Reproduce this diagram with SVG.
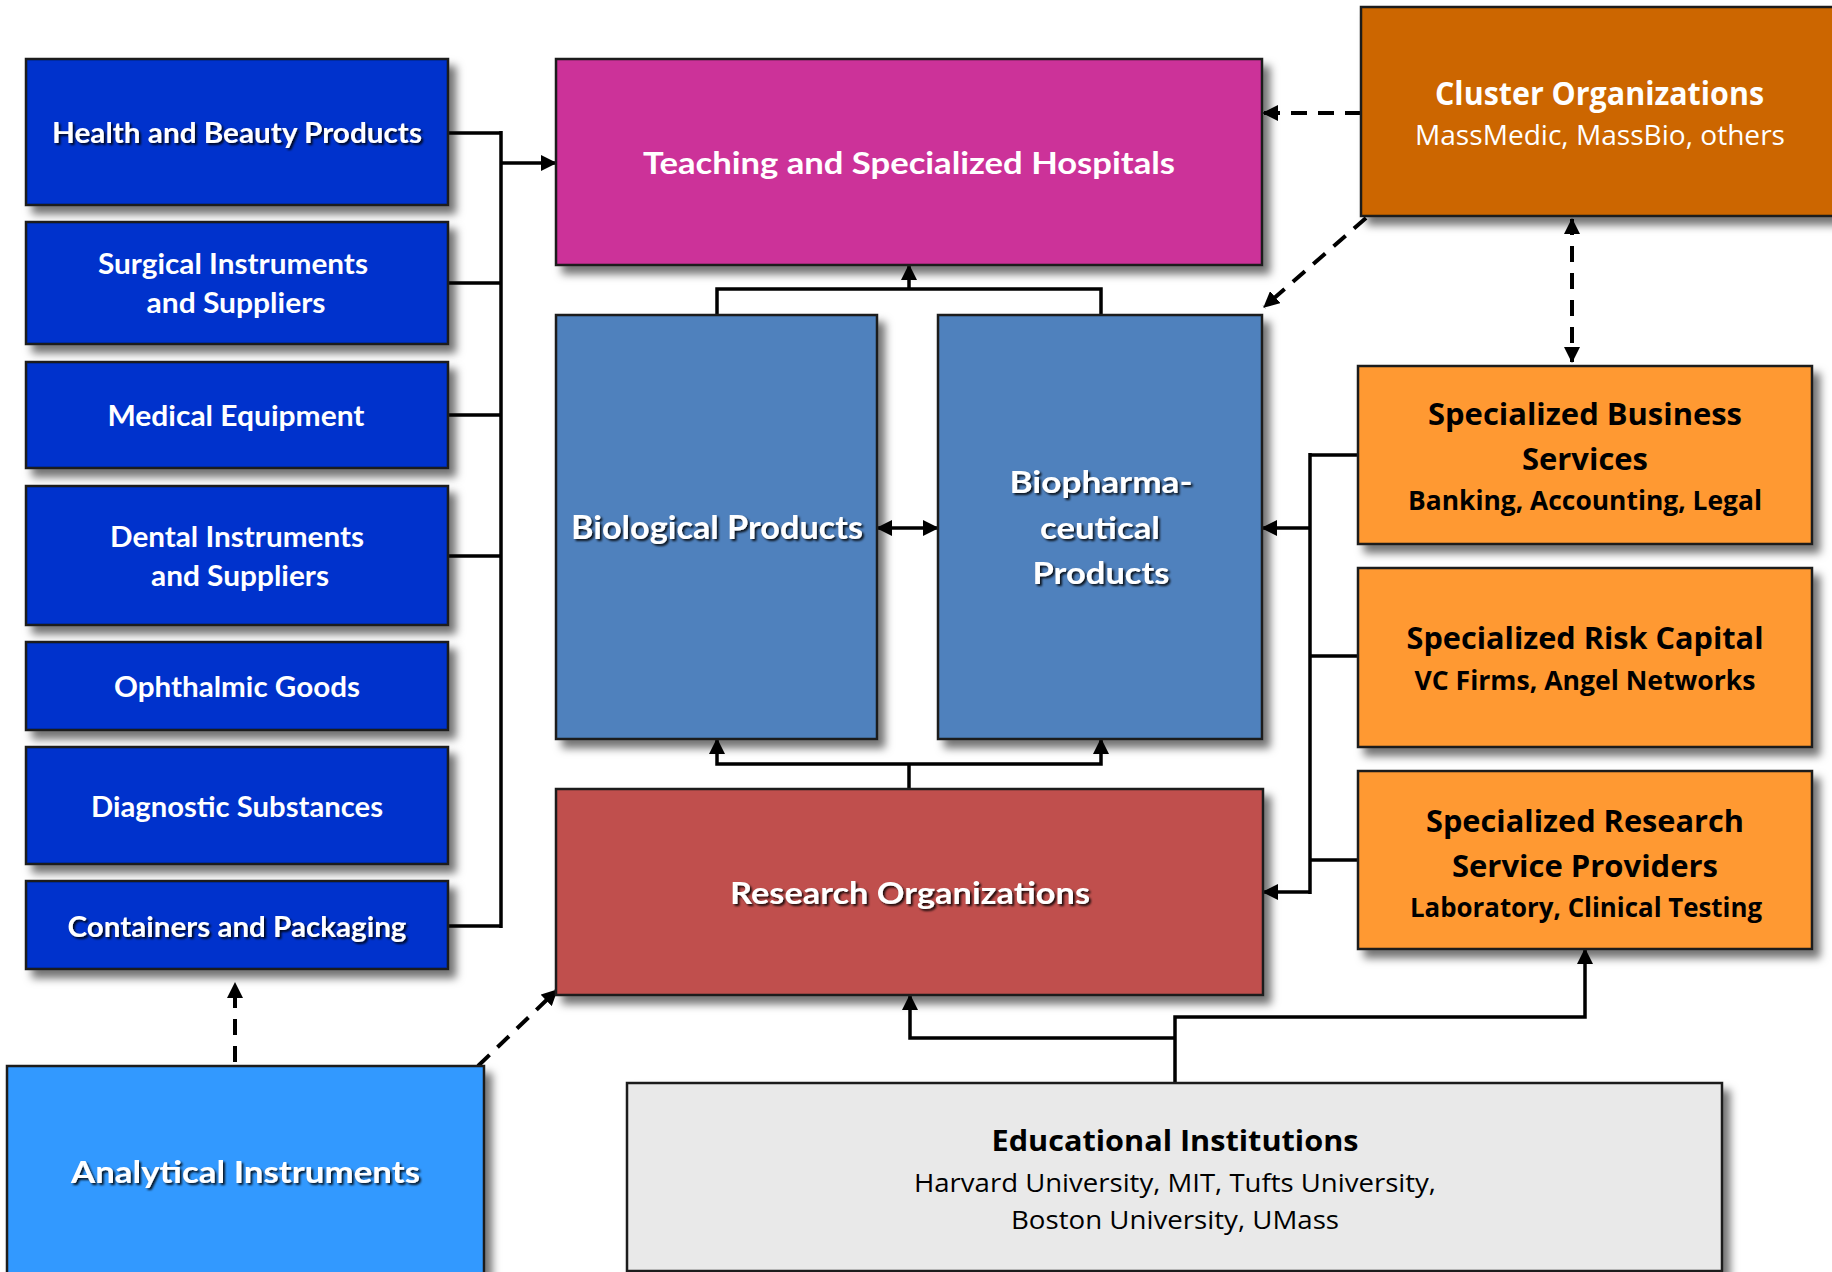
<svg xmlns="http://www.w3.org/2000/svg" width="1832" height="1272" viewBox="0 0 1832 1272">
<defs>
<filter id="sh" x="-10%" y="-10%" width="130%" height="140%">
<feDropShadow dx="7" dy="8" stdDeviation="4" flood-color="#000" flood-opacity="0.55"/>
</filter>
<filter id="tsh" x="-5%" y="-30%" width="110%" height="160%">
<feDropShadow dx="2" dy="2" stdDeviation="1" flood-color="#000" flood-opacity="0.85"/>
</filter>
<marker id="ah" viewBox="0 0 16 16" refX="15" refY="8" markerWidth="16" markerHeight="16" markerUnits="userSpaceOnUse" orient="auto-start-reverse">
<path d="M0,0 L16,8 L0,16 z" fill="#000"/>
</marker>
</defs>
<style>
.box{stroke:#1a1a1a;stroke-width:2.5;filter:url(#sh)}
.blue{fill:#0033CC}
.pink{fill:#CC3399}
.steel{fill:#4F81BD}
.red{fill:#C0504D}
.brown{fill:#CC6600}
.orange{fill:#FF9933}
.sky{fill:#3399FF}
.grey{fill:#E9E9E9}
.wt{font-family:Lato,"Open Sans",sans-serif;font-weight:700;fill:#fff;text-anchor:middle}
.ot{font-family:"Open Sans","Noto Sans",sans-serif;font-weight:700;fill:#000;text-anchor:middle}
.on{font-family:"Open Sans","Noto Sans",sans-serif;font-weight:400;fill:#000;text-anchor:middle}
.ct{font-family:"Open Sans","Noto Sans",sans-serif;fill:#fff;text-anchor:middle}
.ts{filter:url(#tsh)}
.ln{fill:none;stroke:#000;stroke-width:3.5}
.dl{fill:none;stroke:#000;stroke-width:4;stroke-dasharray:16 11}
</style>
<rect width="1832" height="1272" fill="#fff"/>

<g id="connectors">
<path class="ln" d="M448,133 H501 M448,283 H501 M448,415 H501 M448,556 H501 M448,926 H501 M501,131 V928"/>
<path class="ln" d="M501,163 H556" marker-end="url(#ah)"/>
<path class="ln" d="M717,315 V289 H1101 V315"/>
<path class="ln" d="M909,289 V265" marker-end="url(#ah)"/>
<path class="ln" d="M877,528 H938" marker-start="url(#ah)" marker-end="url(#ah)"/>
<path class="ln" d="M909,789 V764"/>
<path class="ln" d="M909,764 H717 V739" marker-end="url(#ah)"/>
<path class="ln" d="M909,764 H1101 V739" marker-end="url(#ah)"/>
<path class="ln" d="M1358,455 H1310 M1358,656 H1310 M1358,860 H1310 M1310,453 V894"/>
<path class="ln" d="M1310,528 H1262" marker-end="url(#ah)"/>
<path class="ln" d="M1310,892 H1263" marker-end="url(#ah)"/>
<path class="ln" d="M1175,1083 V1017 H1585 V949" marker-end="url(#ah)"/>
<path class="ln" d="M1175,1038 H910 V995" marker-end="url(#ah)"/>
<path class="dl" d="M1361,113 H1263" marker-end="url(#ah)"/>
<path class="dl" d="M1366,218 L1264,307" marker-end="url(#ah)"/>
<path class="dl" d="M1572,219 V362" marker-start="url(#ah)" marker-end="url(#ah)"/>
<path class="dl" d="M235,1062 V983" marker-end="url(#ah)"/>
<path class="dl" d="M478,1066 L557,990" marker-end="url(#ah)"/>
</g>

<g id="health">
<rect class="box blue" x="26" y="59" width="422" height="146"/>
<text class="wt ts" x="237" y="143" font-size="28" textLength="370" lengthAdjust="spacingAndGlyphs">Health and Beauty Products</text>
</g>
<g id="surgical">
<rect class="box blue" x="26" y="222" width="422" height="122"/>
<text class="wt" x="233" y="274" font-size="28" textLength="270" lengthAdjust="spacingAndGlyphs">Surgical Instruments</text>
<text class="wt" x="236" y="313" font-size="28" textLength="179" lengthAdjust="spacingAndGlyphs">and Suppliers</text>
</g>
<g id="medical">
<rect class="box blue" x="26" y="362" width="422" height="106"/>
<text class="wt" x="236" y="426" font-size="28" textLength="257" lengthAdjust="spacingAndGlyphs">Medical Equipment</text>
</g>
<g id="dental">
<rect class="box blue" x="26" y="486" width="422" height="139"/>
<text class="wt" x="237" y="547" font-size="28" textLength="254" lengthAdjust="spacingAndGlyphs">Dental Instruments</text>
<text class="wt" x="240" y="586" font-size="28" textLength="178" lengthAdjust="spacingAndGlyphs">and Suppliers</text>
</g>
<g id="ophthalmic">
<rect class="box blue" x="26" y="642" width="422" height="88"/>
<text class="wt" x="237" y="697" font-size="28" textLength="246" lengthAdjust="spacingAndGlyphs">Ophthalmic Goods</text>
</g>
<g id="diagnostic">
<rect class="box blue" x="26" y="747" width="422" height="117"/>
<text class="wt" x="237" y="817" font-size="28" textLength="292" lengthAdjust="spacingAndGlyphs">Diagnostic Substances</text>
</g>
<g id="containers">
<rect class="box blue" x="26" y="881" width="422" height="88"/>
<text class="wt ts" x="237" y="937" font-size="28" textLength="339" lengthAdjust="spacingAndGlyphs">Containers and Packaging</text>
</g>

<g id="teaching">
<rect class="box pink" x="556" y="59" width="706" height="206"/>
<text class="wt" x="909" y="174" font-size="31" textLength="532" lengthAdjust="spacingAndGlyphs">Teaching and Specialized Hospitals</text>
</g>
<g id="cluster">
<rect class="box brown" x="1361" y="7" width="490" height="209"/>
<text class="ct" x="1599.5" y="105" font-size="32" font-weight="700" textLength="329" lengthAdjust="spacingAndGlyphs">Cluster Organizations</text>
<text class="ct" x="1600" y="145" font-size="27" textLength="370" lengthAdjust="spacingAndGlyphs">MassMedic, MassBio, others</text>
</g>
<g id="biological">
<rect class="box steel" x="556" y="315" width="321" height="424"/>
<text class="wt ts" x="717" y="539" font-size="32" textLength="292" lengthAdjust="spacingAndGlyphs">Biological Products</text>
</g>
<g id="biopharma">
<rect class="box steel" x="938" y="315" width="324" height="424"/>
<text class="wt ts" x="1101" y="493" font-size="31" textLength="183" lengthAdjust="spacingAndGlyphs">Biopharma-</text>
<text class="wt ts" x="1100" y="539" font-size="31" textLength="120" lengthAdjust="spacingAndGlyphs">ceutical</text>
<text class="wt ts" x="1101" y="584" font-size="31" textLength="137" lengthAdjust="spacingAndGlyphs">Products</text>
</g>
<g id="research">
<rect class="box red" x="556" y="789" width="707" height="206"/>
<text class="wt ts" x="910" y="904" font-size="31" textLength="360" lengthAdjust="spacingAndGlyphs">Research Organizations</text>
</g>
<g id="business">
<rect class="box orange" x="1358" y="366" width="454" height="178"/>
<text class="ot" x="1585" y="425" font-size="31" textLength="314" lengthAdjust="spacingAndGlyphs">Specialized Business</text>
<text class="ot" x="1585" y="470" font-size="31" textLength="126" lengthAdjust="spacingAndGlyphs">Services</text>
<text class="ot" x="1585" y="510" font-size="26" textLength="354" lengthAdjust="spacingAndGlyphs">Banking, Accounting, Legal</text>
</g>
<g id="risk">
<rect class="box orange" x="1358" y="568" width="454" height="179"/>
<text class="ot" x="1585" y="649" font-size="31" textLength="357" lengthAdjust="spacingAndGlyphs">Specialized Risk Capital</text>
<text class="ot" x="1585" y="690" font-size="26" textLength="341" lengthAdjust="spacingAndGlyphs">VC Firms, Angel Networks</text>
</g>
<g id="research-services">
<rect class="box orange" x="1358" y="771" width="454" height="178"/>
<text class="ot" x="1585" y="832" font-size="31" textLength="318" lengthAdjust="spacingAndGlyphs">Specialized Research</text>
<text class="ot" x="1585" y="877" font-size="31" textLength="266" lengthAdjust="spacingAndGlyphs">Service Providers</text>
<text class="ot" x="1586" y="917" font-size="26" textLength="352" lengthAdjust="spacingAndGlyphs">Laboratory, Clinical Testing</text>
</g>
<g id="analytical">
<rect class="box sky" x="7" y="1066" width="477" height="230"/>
<text class="wt ts" x="245.5" y="1183" font-size="31" textLength="349" lengthAdjust="spacingAndGlyphs">Analytical Instruments</text>
</g>
<g id="educational">
<rect class="box grey" x="627" y="1083" width="1095" height="188"/>
<text class="ot" x="1175" y="1151" font-size="29" textLength="367" lengthAdjust="spacingAndGlyphs">Educational Institutions</text>
<text class="on" x="1175" y="1192" font-size="25" textLength="522" lengthAdjust="spacingAndGlyphs">Harvard University, MIT, Tufts University,</text>
<text class="on" x="1175" y="1229" font-size="25" textLength="328" lengthAdjust="spacingAndGlyphs">Boston University, UMass</text>
</g>
</svg>
